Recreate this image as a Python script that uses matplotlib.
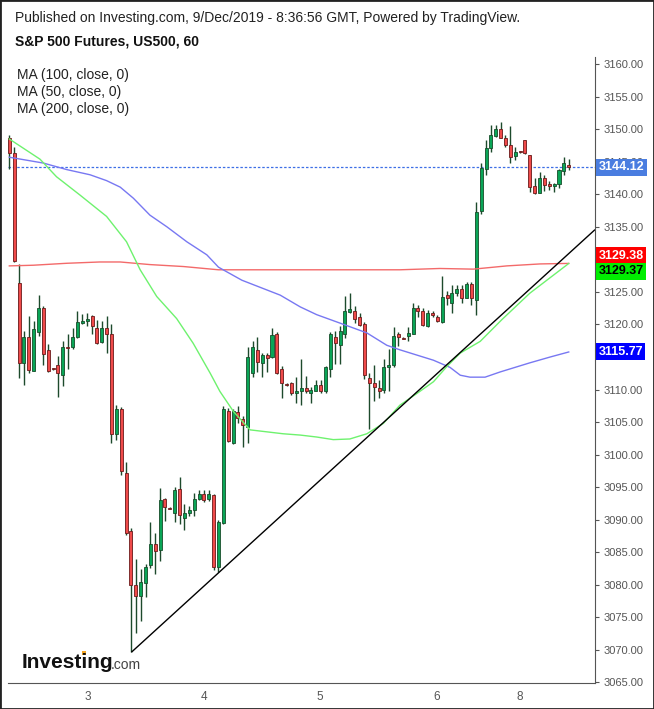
import matplotlib
matplotlib.use('Agg')
import matplotlib.pyplot as plt
from matplotlib.patches import Rectangle

plt.rcParams['font.family'] = ['Liberation Sans', 'DejaVu Sans']

# hourly candles, Dec 2 - Dec 9 2019
opens = [3148.7, 3146.4, 3126.3, 3114.0, 3118.1, 3112.9, 3118.9, 3122.5, 3116.1, 3113.2,
         3113.7, 3112.2, 3116.6, 3116.5, 3118.1, 3120.2, 3120.5, 3121.3, 3119.4, 3117.3,
         3119.4, 3118.6, 3103.1, 3107.0, 3097.1, 3088.3, 3080.0, 3078.2, 3080.3, 3083.0,
         3086.3, 3085.4, 3093.2, 3091.8, 3091.0, 3094.7, 3090.2, 3091.0, 3091.5, 3093.2,
         3094.0, 3093.2, 3093.8, 3082.7, 3089.5, 3106.7, 3101.8, 3106.5, 3105.4, 3104.2,
         3112.5, 3116.0, 3114.0, 3115.3, 3115.0, 3118.5, 3113.2, 3110.8, 3111.0, 3109.4,
         3109.8, 3110.2, 3109.4, 3109.8, 3110.7, 3109.8, 3113.2, 3118.0, 3116.9, 3118.6,
         3121.9, 3122.1, 3121.2, 3120.1, 3111.7, 3111.0, 3110.2, 3109.9, 3113.4, 3113.7,
         3118.6, 3117.9, 3118.2, 3118.6, 3122.5, 3122.0, 3119.8, 3121.7, 3121.2, 3120.4,
         3124.5, 3123.3, 3124.9, 3125.4, 3124.1, 3126.2, 3123.7, 3137.5, 3143.9, 3147.1,
         3149.0, 3150.0, 3148.7, 3147.6, 3145.9, 3146.6, 3148.3, 3146.0, 3141.3, 3140.2,
         3142.5, 3141.6, 3141.2, 3141.6, 3143.6, 3144.5]
highs = [3149.1, 3147.3, 3129.3, 3119.0, 3121.3, 3120.6, 3124.5, 3122.8, 3117.0, 3113.3,
         3115.1, 3117.4, 3118.5, 3119.4, 3122.1, 3121.6, 3121.8, 3121.5, 3120.7, 3120.6,
         3121.3, 3120.1, 3107.6, 3107.3, 3098.8, 3088.7, 3083.9, 3082.4, 3083.2, 3089.7,
         3087.9, 3094.8, 3093.4, 3092.0, 3095.0, 3096.5, 3092.4, 3092.1, 3094.1, 3094.6,
         3094.6, 3094.6, 3094.0, 3090.0, 3107.5, 3107.2, 3107.0, 3107.5, 3105.9, 3116.5,
         3117.4, 3118.0, 3115.6, 3115.6, 3119.4, 3118.8, 3113.6, 3111.0, 3111.2, 3112.0,
         3114.7, 3112.1, 3110.4, 3111.5, 3111.4, 3113.6, 3118.9, 3119.0, 3119.7, 3124.3,
         3124.8, 3122.8, 3121.7, 3120.4, 3112.5, 3113.7, 3111.5, 3114.7, 3116.2, 3119.6,
         3118.8, 3118.0, 3119.6, 3123.3, 3123.0, 3122.5, 3122.2, 3122.0, 3121.4, 3127.4,
         3125.2, 3126.0, 3126.0, 3126.1, 3126.6, 3126.5, 3138.8, 3144.8, 3148.4, 3150.6,
         3150.7, 3151.1, 3149.1, 3150.5, 3147.2, 3146.7, 3148.4, 3146.1, 3142.5, 3143.5,
         3142.9, 3142.1, 3141.7, 3143.9, 3145.7, 3145.5]
lows = [3143.9, 3129.6, 3111.7, 3110.7, 3112.6, 3112.9, 3118.3, 3113.8, 3112.7, 3113.0,
        3108.8, 3110.6, 3113.1, 3116.3, 3117.9, 3120.1, 3119.7, 3118.6, 3117.0, 3117.1,
        3115.6, 3101.8, 3102.3, 3096.8, 3087.7, 3069.7, 3072.6, 3074.5, 3078.1, 3082.5,
        3081.7, 3083.7, 3089.8, 3091.6, 3089.7, 3089.3, 3088.4, 3090.6, 3090.5, 3093.0,
        3092.7, 3092.8, 3082.3, 3081.9, 3089.4, 3101.9, 3101.7, 3104.8, 3101.2, 3101.8,
        3111.9, 3112.7, 3111.9, 3112.7, 3114.9, 3112.4, 3108.7, 3110.6, 3109.2, 3107.9,
        3107.6, 3109.4, 3108.0, 3109.7, 3109.4, 3109.5, 3111.9, 3113.9, 3113.9, 3117.9,
        3121.8, 3120.2, 3119.8, 3111.6, 3103.9, 3108.3, 3108.7, 3109.5, 3109.8, 3113.5,
        3116.7, 3117.7, 3117.4, 3118.5, 3121.2, 3119.8, 3119.6, 3121.2, 3120.4, 3120.2,
        3123.0, 3121.7, 3124.3, 3123.3, 3124.0, 3123.0, 3121.5, 3136.9, 3142.9, 3146.5,
        3148.8, 3148.6, 3147.3, 3144.8, 3145.3, 3146.4, 3146.2, 3140.3, 3140.1, 3140.2,
        3140.5, 3140.7, 3140.4, 3140.9, 3143.0, 3143.8]
closes = [3146.4, 3129.7, 3114.1, 3118.1, 3113.0, 3119.3, 3122.5, 3115.4, 3112.9, 3113.1,
          3112.5, 3116.5, 3116.4, 3118.0, 3120.3, 3120.6, 3120.9, 3119.8, 3117.2, 3119.4,
          3118.5, 3103.2, 3107.0, 3097.5, 3087.9, 3080.0, 3078.2, 3080.4, 3082.7, 3086.3,
          3085.2, 3093.0, 3091.9, 3091.7, 3094.6, 3090.7, 3091.0, 3091.5, 3093.2, 3094.0,
          3093.0, 3094.0, 3082.7, 3089.7, 3107.0, 3102.1, 3106.7, 3105.7, 3104.5, 3115.0,
          3116.5, 3114.2, 3115.3, 3114.9, 3118.4, 3112.6, 3111.0, 3110.7, 3109.4, 3109.8,
          3110.2, 3109.7, 3109.9, 3110.7, 3109.7, 3113.4, 3118.5, 3117.2, 3119.0, 3122.0,
          3122.4, 3120.9, 3119.9, 3112.2, 3111.0, 3110.4, 3109.8, 3113.4, 3113.7, 3118.2,
          3118.0, 3117.8, 3118.7, 3122.5, 3122.0, 3119.9, 3121.8, 3121.4, 3120.5, 3124.2,
          3124.0, 3124.9, 3125.4, 3124.1, 3126.2, 3124.0, 3137.3, 3144.0, 3147.1, 3149.1,
          3150.0, 3148.7, 3147.5, 3145.7, 3146.5, 3146.5, 3146.3, 3141.1, 3140.2, 3142.5,
          3141.5, 3141.2, 3141.6, 3143.7, 3144.8, 3144.12]

# moving averages, sampled at bar index
ma100_idx = [0, 7, 11.8, 16.6, 20, 22.8, 25.5, 28.9, 32.4, 36.5, 40.6, 43, 47.8, 55.7, 59.8,
             63.2, 68, 73.5, 77.6, 80.3, 87.2, 90.6, 92.7, 94.7, 97.8, 100.9, 107, 111.2, 115]
ma100_val = [3145.7, 3144.8, 3143.8, 3143.0, 3142.1, 3141.1, 3139.4, 3136.8, 3135.0, 3132.7,
             3130.7, 3128.8, 3126.8, 3124.5, 3122.7, 3121.5, 3120.2, 3118.7, 3116.8, 3116.1,
             3114.5, 3113.4, 3112.2, 3111.9, 3111.9, 3112.7, 3114.1, 3115.0, 3115.77]
ma50_idx = [0, 6.3, 9.7, 14.5, 20, 24.1, 26.9, 30.3, 34.4, 37.8, 41.3, 43.3, 46.1, 49.5, 52.9,
            56.3, 59.8, 63.2, 66.6, 70, 73.5, 76.9, 80.3, 83.8, 87.2, 89.9, 92.7, 96.8, 101.2,
            107, 115]
ma50_val = [3148.5, 3145.4, 3142.7, 3139.9, 3136.6, 3132.7, 3128.4, 3124.3, 3120.9, 3117.1,
            3112.5, 3109.7, 3106.6, 3103.8, 3103.5, 3103.2, 3103.0, 3102.7, 3102.3, 3102.4,
            3103.2, 3104.8, 3107.6, 3109.4, 3111.2, 3113.5, 3115.6, 3117.4, 3120.7, 3124.8,
            3129.37]
ma200_idx = [0, 4.9, 11.8, 18.6, 22.8, 28.9, 35.8, 43, 59.8, 80.3, 88.5, 95.4, 102.3, 109.1, 115]
ma200_val = [3129.0, 3129.1, 3129.4, 3129.6, 3129.6, 3129.2, 3128.9, 3128.4, 3128.4, 3128.4,
             3128.6, 3128.5, 3129.0, 3129.3, 3129.38]

trend_idx = [25.2, 120.3]
trend_val = [3069.7, 3134.5]

day_pos = [16.2, 40, 63.9, 87.9, 105]
day_labels = ['3', '4', '5', '6', '8']
yticks = list(range(3065, 3161, 5))
hidden_ticks = [3130, 3115]  # sit fully under the value tags

fig = plt.figure(figsize=(6.54, 7.09), dpi=100)
ax = fig.add_axes([8 / 654, 1 - 683 / 709, 587 / 654, 626 / 709])

wick_c = '#1d4a2c'
for i in range(len(opens)):
    o, h, l, c = opens[i], highs[i], lows[i], closes[i]
    up = c >= o
    ax.vlines(i, l, h, color=wick_c, lw=1.0, zorder=2)
    body = max(abs(c - o), 0.15)
    ax.bar(i, body, bottom=min(o, c), width=0.62,
           color='#0aa557' if up else '#ef4a4a',
           edgecolor='#174d2a' if up else '#6b1a1a', lw=0.6, zorder=3)

ax.plot(ma200_idx, ma200_val, color='#f36a6a', lw=1.0, zorder=4)
ax.plot(ma100_idx, ma100_val, color='#7878f2', lw=1.0, zorder=4)
ax.plot(ma50_idx, ma50_val, color='#6ef26e', lw=1.0, zorder=4)
ax.plot(trend_idx, trend_val, color='black', lw=1.0, zorder=5)

last = closes[-1]
ax.axhline(last, color='#3d6fe6', lw=0.9, ls=(0, (2, 1.5)), zorder=1)

ax.set_xlim(-0.27, 120.4)
ax.set_ylim(3064.9, 3161.1)
ax.set_xticks(day_pos)
ax.set_xticklabels(day_labels)
ax.set_yticks(yticks)
ax.set_yticklabels(['' if v in hidden_ticks else '%.2f' % v for v in yticks])
ax.yaxis.tick_right()
ax.tick_params(axis='y', direction='out', length=3, width=0.8, color='#555555',
               labelcolor='#555555', labelsize=8, pad=3)
ax.tick_params(axis='x', length=0, labelcolor='#555555', labelsize=8.5, pad=6)
for s in ['top', 'left']:
    ax.spines[s].set_visible(False)
ax.spines['right'].set_color('#555555')
ax.spines['bottom'].set_color('#555555')

# value tags on the price axis
tags = [(last, '3144.12', '#4a7de0', 'white'),
        (3129.38 + 1.2, '3129.38', '#ff0000', 'white'),
        (3129.37 - 1.2, '3129.37', '#00ee00', 'black'),
        (3115.77, '3115.77', '#0000ff', 'white')]
for v, s, bg, fg in tags:
    ax.annotate(s, xy=(1, v), xycoords=('axes fraction', 'data'), xytext=(2.5, 0),
                textcoords='offset points', va='center', ha='left', fontsize=9,
                fontweight='bold', color=fg, zorder=10,
                bbox=dict(boxstyle='square,pad=0.2', fc=bg, ec='none'))

fig.text(15 / 654, 1 - 18 / 709, 'Published on Investing.com, 9/Dec/2019 - 8:36:56 GMT, Powered by TradingView.',
         fontsize=10, va='center', color='#222222')
fig.text(15 / 654, 1 - 42 / 709, 'S&P 500 Futures, US500, 60', fontsize=10,
         fontweight='bold', va='center', color='#111111')
for k, s in enumerate(['MA (100, close, 0)', 'MA (50, close, 0)', 'MA (200, close, 0)']):
    fig.text(17 / 654, 1 - (75 + 17 * k) / 709, s, fontsize=10, va='center', color='#222222')

fig.text(22 / 654, 1 - 662 / 709, 'Investing', fontsize=15, fontweight='bold',
         va='center', color='#111111')
fig.text(111 / 654, 1 - 665 / 709, '.com', fontsize=10, va='center', color='#444444')
# orange dot of the logo's second "i"
fig.patches.append(Rectangle((82 / 654, 1 - 655 / 709), 4 / 654, 4 / 709,
                             transform=fig.transFigure, fc='#f5a623', ec='none'))

fig.patches.append(Rectangle((0, 0), 1, 1, transform=fig.transFigure, fill=False,
                             ec='#222222', lw=2))

fig.savefig('out.png', dpi=100)
